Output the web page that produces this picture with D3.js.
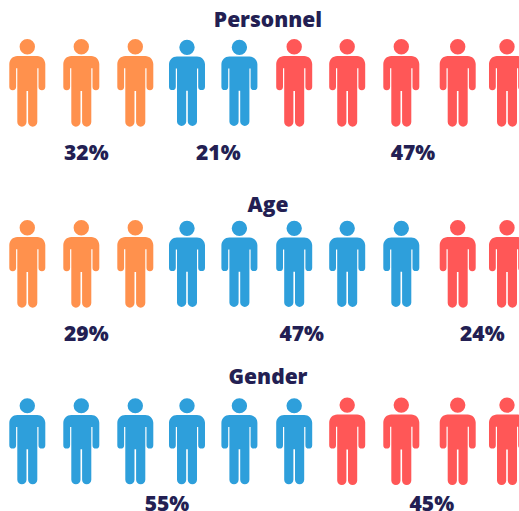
<!DOCTYPE html>
<html>
<head>
<meta charset="utf-8">
<script src="https://cdn.jsdelivr.net/npm/d3@7"></script>
<style>
  html, body { margin: 0; padding: 0; background: #fff; overflow: hidden; }
  text { font-family: "Open Sans", sans-serif; font-weight: 800; fill: #231f53; }
</style>
</head>
<body>
<div id="chart"></div>
<script>
const width = 519, height = 511;

// values
const titles = ['Personnel', 'Age', 'Gender'];
const colorNames = ['orange', 'blue', 'red'];
const personnelCounts = [3, 2, 5];
const ageCounts = [3, 5, 2];
const genderCounts = [0, 6, 4];
const personnelShares = [32, 21, 47];
const ageShares = [29, 47, 24];
const genderShares = [0, 55, 45];

const colors = d3.scaleOrdinal().domain(colorNames).range(['#ff914d', '#2e9fdb', '#ff5757']);

// figure slots are not evenly spaced in the original
const x = d3.scaleLinear().domain(d3.range(10)).range([27.3, 81.3, 135.3, 187, 239.4, 294.2, 347.2, 401.3, 457.7, 507]);

const rows = [
    { title: titles[0], counts: personnelCounts, shares: personnelShares, titleY: 26.7, top: 39, labelY: 160, labelX: [86.3, 218.3, 413] },
    { title: titles[1], counts: ageCounts, shares: ageShares, titleY: 211.7, top: 220, labelY: 341, labelX: [86.3, 301.7, 482.3] },
    { title: titles[2], counts: genderCounts, shares: genderShares, titleY: 384, top: 397.4, labelY: 511, labelX: [0, 167, 431.8] }
];

// person outline, origin at top centre, 87.7 tall
const personHeight = 87.7;
const personPath = d3.path();
personPath.moveTo(-10, 17);
personPath.lineTo(10, 17);
personPath.bezierCurveTo(14.4, 17, 18, 20.6, 18, 25);
personPath.lineTo(18, 47.8);
personPath.arc(14.6, 47.8, 3.4, 0, Math.PI);
personPath.lineTo(11.2, 29.3);
personPath.lineTo(10, 29.3);
personPath.lineTo(10, 83.1);
personPath.arc(5.4, 83.1, 4.6, 0, Math.PI);
personPath.lineTo(0.8, 52);
personPath.lineTo(-0.8, 52);
personPath.lineTo(-0.8, 83.1);
personPath.arc(-5.4, 83.1, 4.6, 0, Math.PI);
personPath.lineTo(-10, 29.3);
personPath.lineTo(-11.2, 29.3);
personPath.lineTo(-11.2, 47.8);
personPath.arc(-14.6, 47.8, 3.4, 0, Math.PI);
personPath.lineTo(-18, 25);
personPath.bezierCurveTo(-18, 20.6, -14.4, 17, -10, 17);
personPath.closePath();
personPath.moveTo(7.7, 7.7);
personPath.arc(0, 7.7, 7.7, 0, 2 * Math.PI);

const svg = d3.select('#chart').append('svg')
    .attr('width', width)
    .attr('height', height)
    .attr('viewBox', `0 0 ${width} ${height}`)
    .style('display', 'block');

rows.forEach(row => {
    const g = svg.append('g');

    g.append('text')
        .attr('x', 268)
        .attr('y', row.titleY)
        .attr('text-anchor', 'middle')
        .style('font-size', '21px')
        .text(row.title);

    // one entry per figure, coloured by the group it falls in
    const people = row.counts.flatMap((n, i) => d3.range(n).map(() => colorNames[i]));

    // blue figures sit a touch shorter than the others
    g.selectAll('path')
        .data(people)
        .join('path')
        .attr('d', personPath.toString())
        .attr('fill', d => colors(d))
        .attr('transform', (d, i) => {
            const inset = d === 'blue' ? 0.8 : 0;
            const sy = (personHeight - 2 * inset) / personHeight;
            return `translate(${x(i)},${row.top + inset}) scale(1,${sy})`;
        });

    g.selectAll('text.share')
        .data(row.shares.map((v, i) => ({ v, lx: row.labelX[i] })).filter(d => d.v > 0))
        .join('text')
        .attr('class', 'share')
        .attr('x', d => d.lx)
        .attr('y', row.labelY)
        .attr('text-anchor', 'middle')
        .style('font-size', '21px')
        .text(d => `${d.v}%`);
});
</script>
</body>
</html>
